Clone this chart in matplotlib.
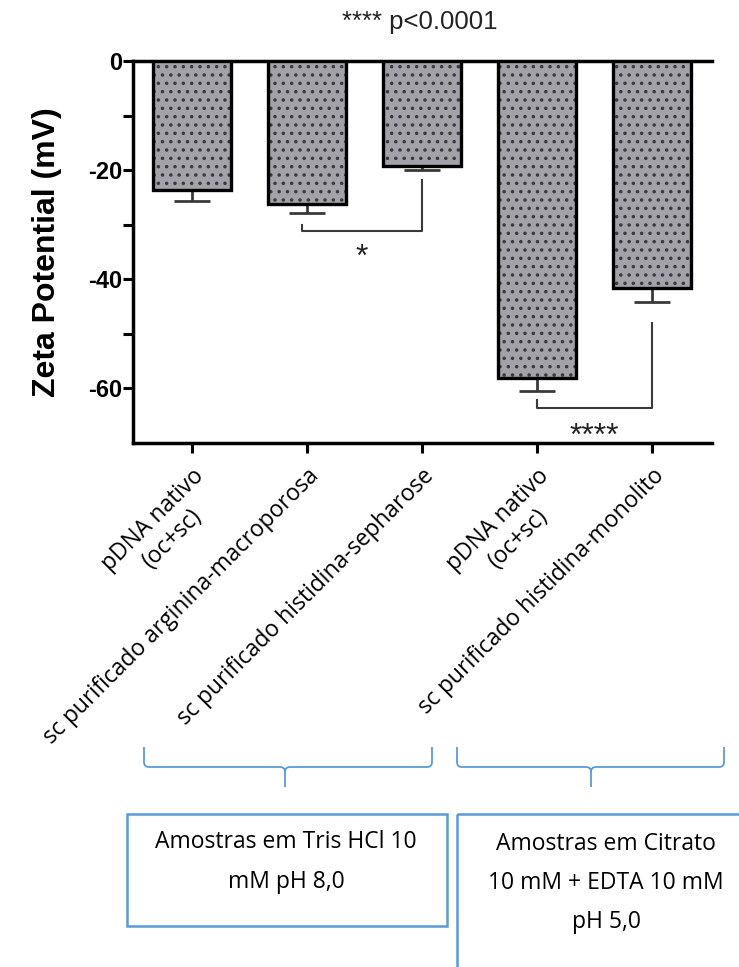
import numpy as np
import matplotlib.pyplot as plt
from matplotlib.path import Path
from matplotlib.patches import PathPatch, Rectangle


# data
labels = ["pDNA nativo\n(oc+sc)",
          "sc purificado arginina-macroporosa",
          "sc purificado histidina-sepharose",
          "pDNA nativo\n(oc+sc)",
          "sc purificado histidina-monolito"]
zeta = [-23.6, -26.2, -19.2, -58.1, -41.6]       # mV
zeta_err = [2.1, 1.7, 0.8, 2.4, 2.6]             # mV, drawn one-sided
yticks_major = [0, -20, -40, -60]
yticks_minor = [-10, -30, -50]

# significance brackets: (x left, x right, left leg top, right leg top, bar y, star y, text)
brackets = [
    (0.96, 2.0, -30.0, -21.8, -31.1, -36.1, "*"),
    (3.0, 4.0, -62.1, -48.0, -63.6, -68.8, "****"),
]

groups = ["Amostras em Tris HCl 10\nmM pH 8,0",
          "Amostras em Citrato\n10 mM + EDTA 10 mM\npH 5,0"]

W, H = 739, 967
plt.rcParams['hatch.linewidth'] = 1.3
fig = plt.figure(figsize=(W / 100, H / 100), dpi=100)
ax = fig.add_axes([133 / W, 1 - 443 / H, (712 - 133) / W, (443 - 61) / H])

x = np.arange(len(zeta))
# fill + dot pattern, then the black outline on top
ax.bar(x, zeta, width=0.68, color='#a2a2a8', edgecolor='#3a3a3a', linewidth=0,
       hatch='..', zorder=3)
ax.bar(x, zeta, width=0.68, fill=False, edgecolor='black', linewidth=2.4, zorder=4)
ax.errorbar(x, zeta, yerr=[zeta_err, [0] * len(zeta)], fmt='none', ecolor='#3a3a3a',
            elinewidth=2.0, capsize=13, capthick=2.0, zorder=2)

for xl, xr, yl, yr, yb, ys, txt in brackets:
    ax.plot([xl, xl, xr, xr], [yl, yb, yb, yr], color='#3a3a3a', lw=1.5, zorder=2)
    ax.text((xl + xr) / 2, ys, txt, ha='center', va='center', fontsize=23,
            family='Liberation Sans', color='#222222')

ax.set_xlim(-0.51, 4.52)
ax.set_ylim(-70, 0)
ax.set_yticks(yticks_major)
ax.set_yticks(yticks_minor, minor=True)
ax.set_yticklabels([str(v) for v in yticks_major], fontsize=17, fontweight='bold',
                   family='Liberation Sans')
ax.tick_params(axis='y', which='both', length=7, width=2.2, pad=1, direction='out')
ax.set_xticks(x)
ax.set_xticklabels(labels, rotation=45, ha='right', va='top', rotation_mode='anchor',
                   multialignment='center', fontsize=16.5, family='Open Sans')
ax.tick_params(axis='x', length=7, width=2.2, pad=8, direction='out')

for side in ['left', 'top', 'bottom']:
    ax.spines[side].set_linewidth(2.5)
ax.spines['right'].set_visible(False)

fig.text(420 / W, 1 - 22 / H, "**** p<0.0001", ha='center', va='center',
         fontsize=18.5, family='Liberation Sans', color='#222222')
fig.text(47 / W, 1 - 252 / H, "Zeta Potential (mV)", rotation=90, ha='center',
         va='center', fontsize=23, fontweight='bold', family='Liberation Sans')

# braces and boxes under the chart (pixel coordinates)
ov = fig.add_axes([0, 0, 1, 1], zorder=-1)
ov.set_xlim(0, W)
ov.set_ylim(H, 0)
ov.axis('off')
blue = '#5b9bd5'


def brace(x0, x1, xm, ytop=747, ymid=767, ytip=787, r=5):
    verts = [(x0, ytop), (x0, ymid - r), (x0, ymid), (x0 + r, ymid),
             (xm - r, ymid), (xm, ymid), (xm, ymid + r), (xm, ytip),
             (xm, ymid + r), (xm, ymid), (xm + r, ymid),
             (x1 - r, ymid), (x1, ymid), (x1, ymid - r), (x1, ytop)]
    codes = [Path.MOVETO, Path.LINETO, Path.CURVE3, Path.CURVE3,
             Path.LINETO, Path.CURVE3, Path.CURVE3, Path.LINETO,
             Path.MOVETO, Path.CURVE3, Path.CURVE3,
             Path.LINETO, Path.CURVE3, Path.CURVE3, Path.LINETO]
    ov.add_patch(PathPatch(Path(verts, codes), fill=False, edgecolor=blue, lw=1.3))


brace(144, 432, 285)
brace(457, 724, 591)

ov.add_patch(Rectangle((127, 814), 320, 112, fill=False, edgecolor=blue, lw=1.8))
ov.add_patch(Rectangle((457, 814), 320, 200, fill=False, edgecolor=blue, lw=1.8,
                       clip_on=False))

ov.text(286, 862, groups[0], ha='center', va='center', fontsize=16.5, family='Open Sans',
        linespacing=1.85)
ov.text(606, 883, groups[1], ha='center', va='center', fontsize=16.5, family='Open Sans',
        linespacing=1.85)

fig.savefig('out.png', dpi=100)
